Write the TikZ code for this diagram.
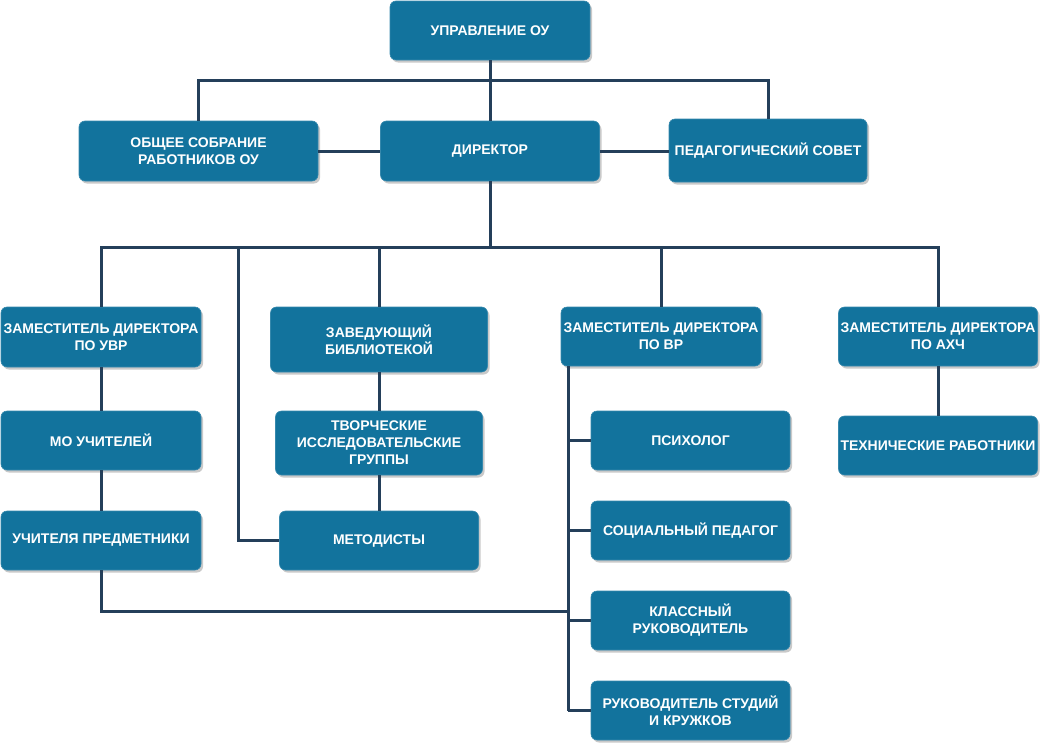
\documentclass[tikz,border=0pt]{standalone}
\usepackage{fontspec}
\setmainfont{Liberation Sans}
\usetikzlibrary{positioning, shadows}

\definecolor{boxblue}{RGB}{18,115,157}
\definecolor{linenavy}{RGB}{36,63,90}

\begin{document}
\begin{tikzpicture}[x=1pt, y=-1pt,
        unit/.style={rectangle, rounded corners=6pt, fill=boxblue, draw=boxblue!85!white,
            line width=0.6pt, text=white, align=center, inner sep=1pt,
            font=\fontsize{14}{17}\selectfont\bfseries,
            drop shadow={shadow xshift=2pt, shadow yshift=-2.5pt, fill=black!30, opacity=.7}},
        wire/.style={draw=linenavy, line width=3pt}]
    \useasboundingbox (0,0) rectangle (1041,744);

    \node[unit, minimum width=200pt, minimum height=59pt] (upr) at (490,30.5) {УПРАВЛЕНИЕ ОУ};
    \node[unit, minimum width=239pt, minimum height=60pt] (sobr) at (198.5,151) {ОБЩЕЕ СОБРАНИЕ\\РАБОТНИКОВ ОУ};
    \node[unit, minimum width=219pt, minimum height=60pt] (dir) at (490,151) {ДИРЕКТОР};
    \node[unit, minimum width=198pt, minimum height=63pt] (ped) at (768,150.5) {ПЕДАГОГИЧЕСКИЙ СОВЕТ};

    \node[unit, minimum width=200pt, minimum height=60pt] (zuvr) at (101,337) {ЗАМЕСТИТЕЛЬ ДИРЕКТОРА\\ПО УВР};
    \node[unit, minimum width=217pt, minimum height=65pt] (zav) at (379,339.5) {ЗАВЕДУЮЩИЙ\\БИБЛИОТЕКОЙ};
    \node[unit, minimum width=200pt, minimum height=59pt] (zvr) at (661,336.5) {ЗАМЕСТИТЕЛЬ ДИРЕКТОРА\\ПО ВР};
    \node[unit, minimum width=199pt, minimum height=59pt] (zahch) at (938,336.5) {ЗАМЕСТИТЕЛЬ ДИРЕКТОРА\\ПО АХЧ};

    \node[unit, minimum width=200pt, minimum height=59pt] (mo) at (101,440.5) {МО УЧИТЕЛЕЙ};
    \node[unit, minimum width=207pt, minimum height=64pt] (tvor) at (379,443) {ТВОРЧЕСКИЕ\\ИССЛЕДОВАТЕЛЬСКИЕ\\ГРУППЫ};
    \node[unit, minimum width=199pt, minimum height=59pt] (psih) at (690.5,440.5) {ПСИХОЛОГ};
    \node[unit, minimum width=199pt, minimum height=59pt] (tech) at (938,445.5) {ТЕХНИЧЕСКИЕ РАБОТНИКИ};

    \node[unit, minimum width=200pt, minimum height=59pt] (uch) at (101,540.5) {УЧИТЕЛЯ ПРЕДМЕТНИКИ};
    \node[unit, minimum width=199pt, minimum height=59pt] (met) at (379,540.5) {МЕТОДИСТЫ};
    \node[unit, minimum width=199pt, minimum height=59pt] (soc) at (690.5,530.5) {СОЦИАЛЬНЫЙ ПЕДАГОГ};
    \node[unit, minimum width=199pt, minimum height=59pt] (kl) at (690.5,620.5) {КЛАССНЫЙ\\РУКОВОДИТЕЛЬ};
    \node[unit, minimum width=199pt, minimum height=59pt] (ruk) at (690.5,710.5) {РУКОВОДИТЕЛЬ СТУДИЙ\\И КРУЖКОВ};

    \coordinate (topbus) at (490,80);
    \coordinate (midbus) at (490,247);
    \coordinate (metbus) at (238,247);
    \coordinate (vrbus) at (568,366);
    \coordinate (uchbus) at (568,611);

    \draw[wire] (upr) -- (dir);
    \draw[wire] (sobr.north) |- (topbus) -| (ped.north);
    \draw[wire] (sobr) -- (dir);
    \draw[wire] (dir) -- (ped.west |- dir);
    \draw[wire] (dir) -- (midbus);
    \draw[wire] (zuvr.north) |- (midbus) -| (zahch.north);
    \draw[wire] (zav.north) |- (midbus);
    \draw[wire] (zvr.north) |- (midbus);
    \draw[wire] (met.west) -| (metbus);
    \draw[wire] (zuvr) -- (mo);
    \draw[wire] (mo) -- (uch);
    \draw[wire] (zav) -- (tvor);
    \draw[wire] (tvor) -- (met);
    \draw[wire] (zahch) -- (tech);
    \draw[wire] (vrbus) -- (vrbus |- ruk.west);
    \foreach \n in {psih,soc,kl,ruk}{%
        \draw[wire] (\n.west) -- (\n.west -| vrbus);
    }
    \draw[wire] (uch.south) |- (uchbus);
\end{tikzpicture}
\end{document}
